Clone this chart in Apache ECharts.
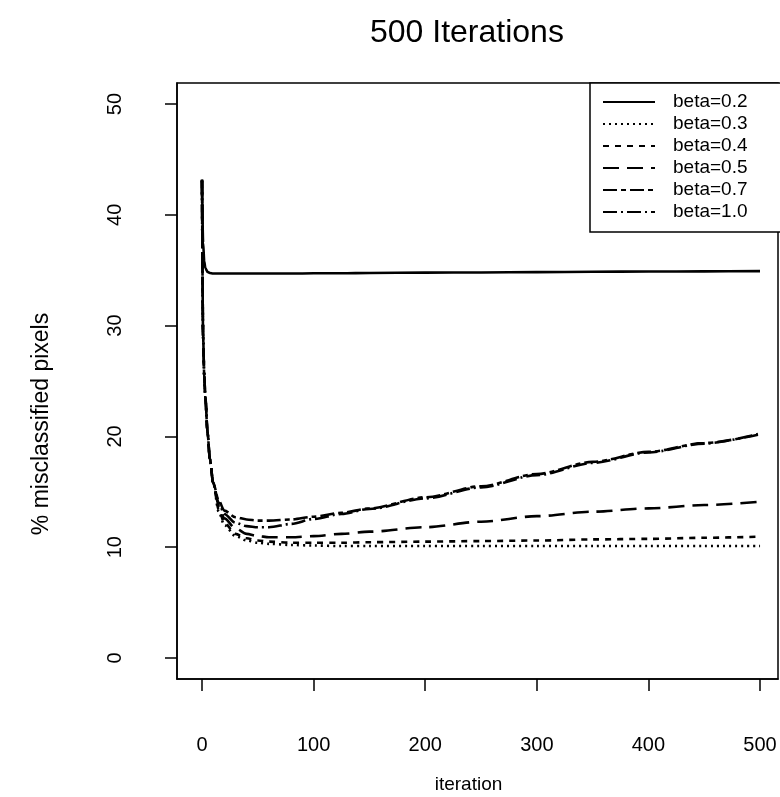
<!DOCTYPE html>
<html><head><meta charset="utf-8">
<script src="https://cdn.jsdelivr.net/npm/echarts@6/dist/echarts.min.js"></script>
<style>html,body{margin:0;padding:0;background:#fff}#c{width:780px;height:797px}</style>
</head><body><div id="c"></div>
<script>
const iterations = [0, 1, 2, 3, 5, 7, 10, 15, 20, 30, 40, 50, 60, 80, 100, 125, 150, 200, 250, 300, 350, 400, 450, 500];
const beta02 = [43.2, 37.5, 35.8, 35.2, 34.85, 34.75, 34.7, 34.7, 34.7, 34.7, 34.7, 34.7, 34.7, 34.7, 34.72, 34.72, 34.75, 34.78, 34.8, 34.83, 34.86, 34.88, 34.9, 34.92];
const beta03 = [43.1, 29.0, 25.5, 23.5, 20.3, 18.0, 15.8, 13.2, 12.0, 11.0, 10.6, 10.4, 10.3, 10.2, 10.15, 10.1, 10.1, 10.1, 10.1, 10.1, 10.1, 10.1, 10.1, 10.1];
const beta04 = [43.1, 29.0, 25.5, 23.5, 20.3, 18.0, 15.8, 13.4, 12.2, 11.2, 10.8, 10.6, 10.5, 10.4, 10.4, 10.4, 10.45, 10.5, 10.55, 10.6, 10.7, 10.75, 10.85, 10.95];
const beta05 = [43.1, 29.0, 25.5, 23.5, 20.3, 18.0, 15.8, 13.7, 12.6, 11.7, 11.2, 11.0, 10.9, 10.9, 11.0, 11.2, 11.4, 11.8, 12.3, 12.8, 13.2, 13.5, 13.8, 14.1];
const beta07 = [43.1, 29.0, 25.5, 23.5, 20.3, 18.0, 15.8, 14.2, 13.3, 12.7, 12.5, 12.4, 12.4, 12.5, 12.75, 13.1, 13.5, 14.5, 15.5, 16.6, 17.7, 18.6, 19.4, 20.2];
const beta10 = [43.1, 29.0, 25.5, 23.5, 20.3, 18.0, 15.8, 14.0, 13.0, 12.2, 11.9, 11.8, 11.8, 12.1, 12.55, 13.0, 13.45, 14.4, 15.4, 16.5, 17.6, 18.55, 19.35, 20.25];
const seriesNames = ['beta=0.2', 'beta=0.3', 'beta=0.4', 'beta=0.5', 'beta=0.7', 'beta=1.0'];
const seriesValues = [beta02, beta03, beta04, beta05, beta07, beta10];
const xTicks = [0, 100, 200, 300, 400, 500];
const yTicks = [0, 10, 20, 30, 40, 50];
const titleText = '500 Iterations';
const xName = 'iteration';
const yName = '% misclassified pixels';

const dashes = ['solid', [2, 4], [6, 6], [16, 8], [14, 4, 5, 4], [14, 4, 2, 4]];
const FONT = '"Liberation Sans", Arial, Helvetica, sans-serif';

const chart = echarts.init(document.getElementById('c'), null, {renderer: 'canvas'});
chart.setOption({
  backgroundColor: '#fff',
  animation: false,
  textStyle: {fontFamily: FONT, color: '#000'},
  title: {
    text: titleText, left: 370, top: 17, padding: 0,
    textStyle: {fontFamily: FONT, fontSize: 32, fontWeight: 'normal', color: '#000'}
  },
  grid: {left: 177, top: 83, right: 2, bottom: 118, show: true, borderColor: '#000', borderWidth: 1.5, containLabel: false, outerBoundsMode: 'none'},
  legend: {
    data: seriesNames, orient: 'vertical', left: 590, top: 83,
    itemWidth: 52, itemHeight: 12, itemGap: 0,
    padding: [8, 50, 9, 12],
    borderColor: '#000', borderWidth: 1.5, backgroundColor: '#fff',
    itemStyle: {opacity: 0},
    textStyle: {fontFamily: FONT, fontSize: 19, color: '#000', padding: [0, 0, 0, 13], lineHeight: 22},
    selectedMode: false
  },
  xAxis: {
    type: 'value', min: -22.4, max: 516.1,
    splitLine: {show: false},
    axisLine: {show: true, onZero: false, lineStyle: {color: '#000', width: 1.5}},
    axisTick: {show: true, customValues: xTicks, length: 12, lineStyle: {color: '#000', width: 1.5}},
    axisLabel: {customValues: xTicks, margin: 56, fontSize: 20, color: '#000', fontFamily: FONT},
    name: xName, nameLocation: 'middle', nameGap: 96,
    nameTextStyle: {fontSize: 19, color: '#000', fontFamily: FONT, padding: [0, 18, 0, 0]}
  },
  yAxis: {
    type: 'value', min: -1.9, max: 51.9,
    splitLine: {show: false},
    axisLine: {show: true, onZero: false, lineStyle: {color: '#000', width: 1.5}},
    axisTick: {show: true, customValues: yTicks, length: 12, lineStyle: {color: '#000', width: 1.5}},
    axisLabel: {customValues: yTicks, margin: 52, rotate: 90, fontSize: 20, color: '#000', fontFamily: FONT},
    name: yName, nameLocation: 'middle', nameGap: 124, nameRotate: 90,
    nameTextStyle: {fontSize: 23, color: '#000', fontFamily: FONT, padding: [0, 86, 0, 0]}
  },
  series: seriesNames.map((name, i) => ({
    name: name, type: 'line',
    data: iterations.map((it, k) => [it, seriesValues[i][k]]),
    symbol: 'none', showSymbol: false,
    smooth: 0.3, smoothMonotone: 'x',
    lineStyle: {color: '#000', width: 2.6, type: dashes[i]},
    itemStyle: {color: '#000'},
    z: 2
  }))
});
</script>
</body></html>
